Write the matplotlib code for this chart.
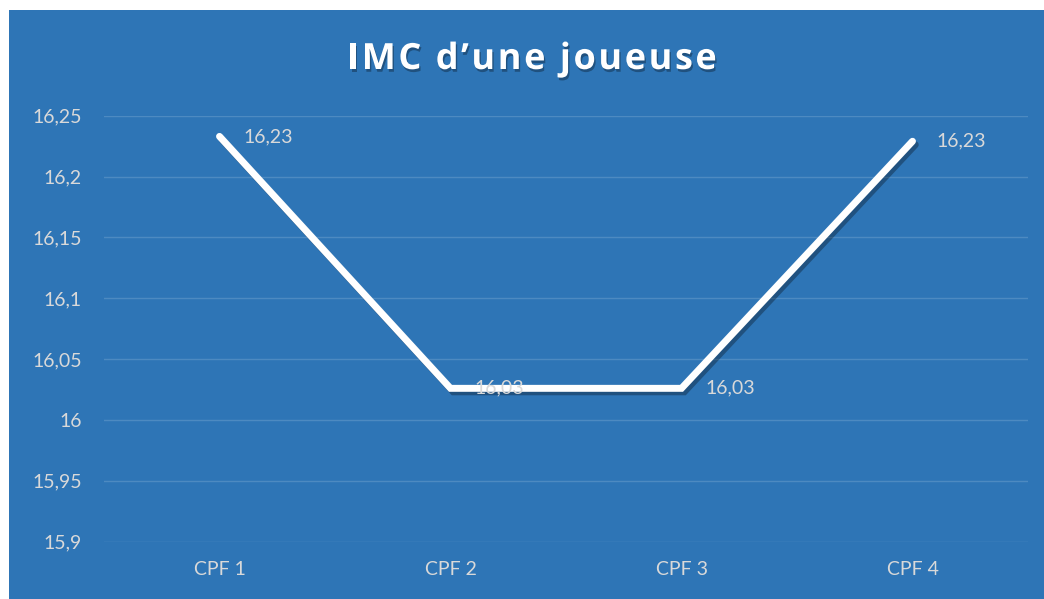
import matplotlib
matplotlib.use("Agg")
import matplotlib.pyplot as plt
import matplotlib.patheffects as pe
from matplotlib.patches import Rectangle

categories = ["CPF 1", "CPF 2", "CPF 3", "CPF 4"]
imc = [16.233, 16.026, 16.026, 16.229]
yticks = [15.9, 15.95, 16.0, 16.05, 16.1, 16.15, 16.2, 16.25]
titre = "IMC d\u2019une joueuse"

BLEU = "#2e75b6"
GRILLE = "#4d8ac1"
GRIS = "#d9d9d9"

def fmt(v, dec=None):
    if dec is None:
        s = f"{v:.2f}".rstrip("0").rstrip(".")
    else:
        s = f"{v:.{dec}f}"
    return s.replace(".", ",")

plt.rcParams["font.family"] = ["Lato", "DejaVu Sans"]

fig = plt.figure(figsize=(10.44, 5.99), dpi=100, facecolor="white")
fig.patches.append(Rectangle((9 / 1044, 0), 1, 1 - 10 / 599, transform=fig.transFigure,
                             facecolor=BLEU, edgecolor="none", zorder=-10))

ax = fig.add_axes([104 / 1044, (599 - 541.7) / 599, 924 / 1044, 426 / 599])
ax.set_facecolor("none")
ax.set_zorder(1)
x = list(range(len(categories)))

ax.plot(x, imc, color="white", lw=5, solid_capstyle="round", solid_joinstyle="miter",
        zorder=3,
        path_effects=[pe.SimpleLineShadow(offset=(2, -2.5), shadow_color="black", alpha=0.3),
                      pe.Normal()])

for xi, v in zip(x, imc):
    ax.annotate(fmt(v, 2), (xi, v), xytext=(17, 0), textcoords="offset points",
                ha="left", va="center", color=GRIS, fontsize=14, zorder=4)

ax.set_xlim(-0.5, 3.5)
ax.set_ylim(15.9, 16.25)
ax.set_xticks(x, categories)
ax.set_yticks(yticks, [fmt(t) for t in yticks])
ax.tick_params(length=0, colors=GRIS, labelsize=14)
ax.tick_params(axis="y", pad=16)
ax.tick_params(axis="x", pad=14)
ax.grid(axis="y", color=GRILLE, lw=1)
ax.set_axisbelow(True)
for s in ax.spines.values():
    s.set_visible(False)

# titre espacé : une lettre à la fois
ombre = [pe.SimplePatchShadow(offset=(1, -2), shadow_rgbFace="black", alpha=0.3), pe.Normal()]
style = dict(color="white", fontsize=26, fontweight="bold",
             family=["Open Sans", "DejaVu Sans"], va="baseline", ha="left")
renderer = fig.canvas.get_renderer()
espace = 2.5  # pixels entre lettres
largeurs = []
for c in titre:
    t = fig.text(0, 0, c if c != " " else "\u00a0", **style)
    largeurs.append(t.get_window_extent(renderer).width)
    t.remove()
total = sum(largeurs) + espace * (len(titre) - 1)
xpos = 532 - total / 2
for c, w in zip(titre, largeurs):
    if c != " ":
        fig.text(xpos / 1044, 1 - 69 / 599, c, path_effects=ombre, **style)
    xpos += w + espace

fig.savefig("out.png", dpi=100, facecolor="white")
